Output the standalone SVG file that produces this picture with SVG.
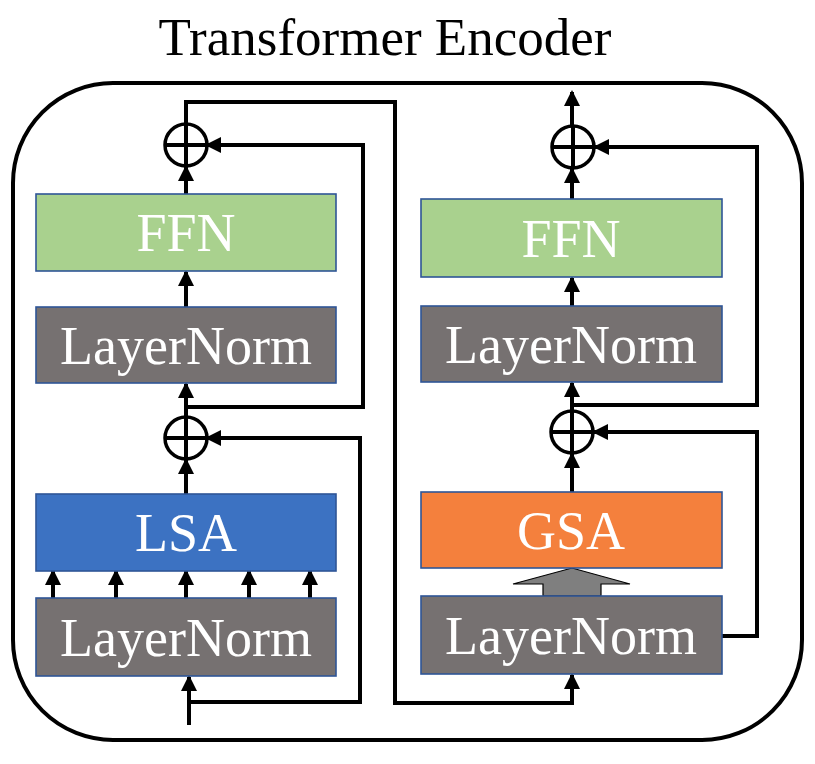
<svg xmlns="http://www.w3.org/2000/svg" width="815" height="764" viewBox="0 0 815 764">
<style>
.box{stroke:#2f5597;stroke-width:1.6}
.ln{fill:#767171}
.ffn{fill:#a9d18e}
.lsa{fill:#3c72c2}
.gsa{fill:#f4803d}
.lbl{font-size:54px;fill:#ffffff;text-anchor:middle}
.wire{fill:none;stroke:#000;stroke-width:4;stroke-linejoin:miter}
.arr{marker-end:url(#ah)}
.sum{fill:none;stroke:#000;stroke-width:3.5}
</style>
<defs>
<marker id="ah" markerUnits="userSpaceOnUse" markerWidth="17" markerHeight="17" refX="14" refY="8" orient="auto">
<path d="M0,0 L16,8 L0,16 z" fill="#000"/>
</marker>
</defs>
<rect width="815" height="764" fill="#fff"/>
<text x="385" y="55" font-family="Liberation Serif, Times New Roman, serif" font-size="53" text-anchor="middle" fill="#000">Transformer Encoder</text>
<rect x="13" y="83" width="789" height="657" rx="100" ry="100" fill="none" stroke="#000" stroke-width="4"/>

<g id="connectors">
<path class="wire arr" d="M189,725 V677"/>
<path class="wire arr" d="M189,702 H360 V438 H207"/>
<path class="wire arr" d="M53,598 V571"/>
<path class="wire arr" d="M116,598 V571"/>
<path class="wire arr" d="M186,598 V571"/>
<path class="wire arr" d="M249,598 V571"/>
<path class="wire arr" d="M310,598 V571"/>
<path class="wire arr" d="M186,494 V460"/>
<path class="wire arr" d="M186,416 V384"/>
<path class="wire arr" d="M186,407 H363 V145 H207"/>
<path class="wire arr" d="M186,307 V272"/>
<path class="wire arr" d="M186,194 V167"/>
<path class="wire arr" d="M186,123 V102 H395 V703 H572 V675"/>
<path class="wire arr" d="M722,636 H757 V432 H594"/>
<path class="wire arr" d="M572,492 V454"/>
<path class="wire arr" d="M572,410 V383"/>
<path class="wire arr" d="M572,405 H757 V147 H595"/>
<path class="wire arr" d="M572,306 V278"/>
<path class="wire arr" d="M572,199 V169"/>
<path class="wire arr" d="M572,125 V92"/>
<path d="M543,596 V584 H513 L572,568 L630,584 H601 V596 Z" fill="#7f7f7f" stroke="#000" stroke-width="1.2"/>
</g>

<g id="sum1"><circle class="sum" cx="186" cy="145" r="21"/><path class="wire" d="M165,145 H207 M186,124 V166"/></g>
<g id="sum2"><circle class="sum" cx="186" cy="438" r="21"/><path class="wire" d="M165,438 H207 M186,417 V459"/></g>
<g id="sum3"><circle class="sum" cx="573" cy="147" r="21"/><path class="wire" d="M552,147 H594 M573,126 V168"/></g>
<g id="sum4"><circle class="sum" cx="572" cy="432" r="21"/><path class="wire" d="M551,432 H593 M572,411 V453"/></g>

<g font-family="Liberation Serif, Times New Roman, serif">
<g id="ffn-left"><rect class="box ffn" x="36" y="194" width="300" height="77"/><text class="lbl" x="186" y="251">FFN</text></g>
<g id="layernorm-left-top"><rect class="box ln" x="36" y="307" width="300" height="76"/><text class="lbl" x="186" y="364">LayerNorm</text></g>
<g id="lsa"><rect class="box lsa" x="36" y="494" width="300" height="77"/><text class="lbl" x="186" y="551">LSA</text></g>
<g id="layernorm-left-bottom"><rect class="box ln" x="36" y="598" width="300" height="78"/><text class="lbl" x="186" y="656">LayerNorm</text></g>

<g id="ffn-right"><rect class="box ffn" x="421" y="199" width="301" height="78"/><text class="lbl" x="571" y="257">FFN</text></g>
<g id="layernorm-right-top"><rect class="box ln" x="421" y="306" width="301" height="76"/><text class="lbl" x="571" y="363">LayerNorm</text></g>
<g id="gsa"><rect class="box gsa" x="421" y="492" width="301" height="76"/><text class="lbl" x="571" y="549">GSA</text></g>
<g id="layernorm-right-bottom"><rect class="box ln" x="421" y="596" width="301" height="78"/><text class="lbl" x="571" y="654">LayerNorm</text></g>
</g>
</svg>
